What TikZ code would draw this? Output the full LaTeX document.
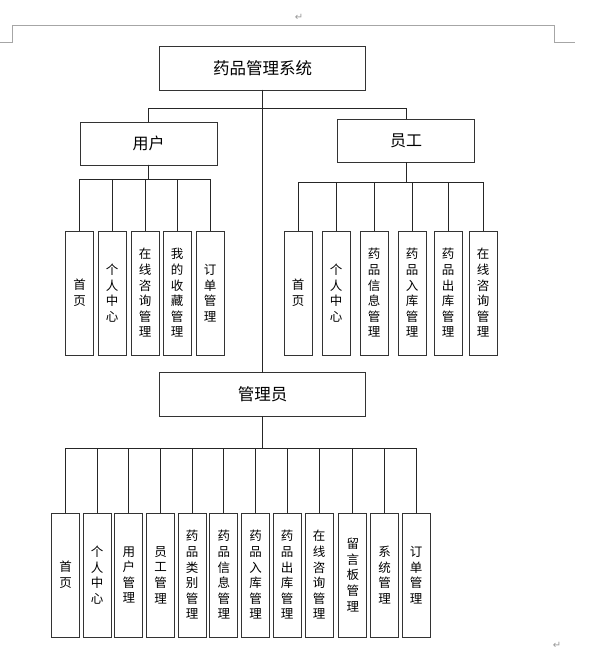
\documentclass[tikz,border=0pt]{standalone}
\usepackage{fontspec}
\setmainfont{Noto Sans CJK SC}
\newfontfamily\markfont{DejaVu Sans}
\usepackage{tikz}
\usepackage{tkz-graph}

\begin{document}
\begin{tikzpicture}[x=1pt, y=1pt]
        \GraphInit[vstyle=Normal]
        \tikzset{VertexStyle/.style={shape=rectangle, draw=black!80, fill=white,
            line width=0.9pt, minimum width=28pt, minimum height=124pt,
            inner sep=0pt, align=center, font=\fontsize{12.5}{15.6}\selectfont}}
        \tikzset{EdgeStyle/.style={-, draw=black!85, line width=0.9pt}}
        \tikzset{LabelStyle/.style={}}
        \tikzset{busedge/.style={to path={(\tikztostart.south) -- ++(0,-#1)
            -| (\tikztotarget.north)}}}
        \tikzset{headbox/.style={minimum width=206pt, minimum height=44pt,
            font=\fontsize{16.5}{16.5}\selectfont}}
        \tikzset{groupbox/.style={minimum width=137pt, minimum height=43pt,
            font=\fontsize{16}{16}\selectfont}}

        \useasboundingbox (0,0) rectangle (596,-663);

        % page marks
        \draw[gray!70, line width=0.6pt] (0,-42) -- (12,-42) -- (12,-25)
            -- (554,-25) -- (554,-42) -- (575,-42);
        \node[text=gray!80, font=\markfont\fontsize{10}{10}\selectfont] (ret1) at (299,-17) {↵};
        \node[text=gray!80, font=\markfont\fontsize{10}{10}\selectfont] (ret2) at (557,-645) {↵};

        \begin{scope}[VertexStyle/.append style = {headbox}]
          \Vertex[x=262.5, y=-68, L={药品管理系统}]{sys}
          \Vertex[x=262.5, y=-394.5, L={管理员}]{admin}
        \end{scope}
        \begin{scope}[VertexStyle/.append style = {groupbox}]
          \Vertex[x=148.5, y=-143.5, L={用户}]{user}
          \Vertex[x=406, y=-141, L={员工}]{staff}
        \end{scope}

        \foreach \n/\px/\txt in {u1/79.5/首\\页, u2/112/个\\人\\中\\心,
            u3/145/在\\线\\咨\\询\\管\\理, u4/177/我\\的\\收\\藏\\管\\理,
            u5/210/订\\单\\管\\理}
          {\Vertex[x=\px, y=-293, L={\txt}]{\n}}
        \foreach \n/\px/\txt in {s1/298/首\\页, s2/336/个\\人\\中\\心,
            s3/374/药\\品\\信\\息\\管\\理, s4/412/药\\品\\入\\库\\管\\理,
            s5/448/药\\品\\出\\库\\管\\理, s6/483/在\\线\\咨\\询\\管\\理}
          {\Vertex[x=\px, y=-293, L={\txt}]{\n}}
        \foreach \n/\px/\txt in {a1/65.5/首\\页, a2/97.2/个\\人\\中\\心,
            a3/128.8/用\\户\\管\\理, a4/160.5/员\\工\\管\\理,
            a5/192/药\\品\\类\\别\\管\\理, a6/223.8/药\\品\\信\\息\\管\\理,
            a7/255.5/药\\品\\入\\库\\管\\理, a8/287.2/药\\品\\出\\库\\管\\理,
            a9/319.2/在\\线\\咨\\询\\管\\理, a10/352.8/留\\言\\板\\管\\理,
            a11/384.5/系\\统\\管\\理, a12/416.2/订\\单\\管\\理}
          {\Vertex[x=\px, y=-575, L={\txt}]{\n}}

        \Edge[style={busedge=18}](sys)(user)
        \Edge[style={busedge=18}](sys)(staff)
        \Edge(sys)(admin)
        \foreach \n in {u1,u2,u3,u4,u5}
          {\Edge[style={busedge=14}](user)(\n)}
        \foreach \n in {s1,s2,s3,s4,s5,s6}
          {\Edge[style={busedge=20}](staff)(\n)}
        \foreach \n in {a1,a2,a3,a4,a5,a6,a7,a8,a9,a10,a11,a12}
          {\Edge[style={busedge=32}](admin)(\n)}
      \end{tikzpicture}
\end{document}
